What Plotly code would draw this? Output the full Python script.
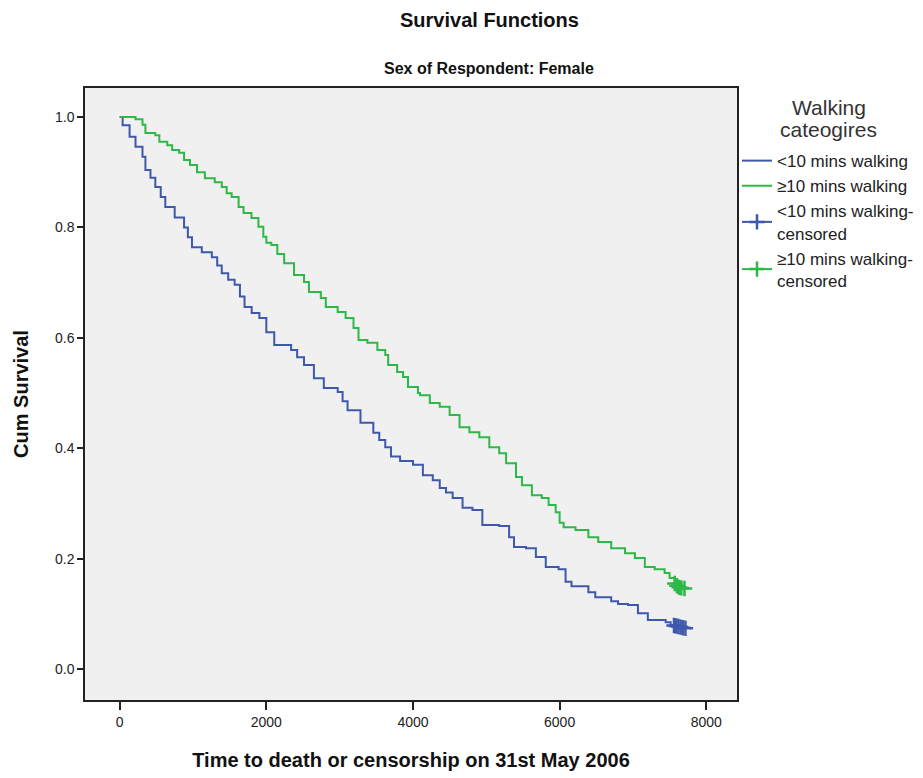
import plotly.graph_objects as go

# Kaplan-Meier step curves
t_lt10 = [0, 40, 135, 216, 311, 351, 420, 486, 560, 622, 750, 878, 930, 986, 1120, 1257,
          1330, 1392, 1480, 1568, 1640, 1703, 1800, 1905, 2000, 2108, 2338, 2420, 2514,
          2649, 2784, 2973, 3040, 3108, 3284, 3459, 3540, 3622, 3700, 3824, 4000, 4135,
          4270, 4365, 4450, 4541, 4676, 4811, 4946, 5176, 5311, 5378, 5541, 5676, 5811,
          5986, 6081, 6162, 6392, 6486, 6703, 6797, 6932, 7068, 7203, 7446, 7514, 7600, 7716]
s_lt10 = [1.0, 0.985, 0.964, 0.946, 0.928, 0.904, 0.890, 0.873, 0.855, 0.837, 0.818, 0.800,
          0.782, 0.764, 0.755, 0.746, 0.731, 0.717, 0.705, 0.696, 0.675, 0.656, 0.645, 0.636,
          0.610, 0.587, 0.578, 0.565, 0.551, 0.527, 0.509, 0.502, 0.485, 0.469, 0.446, 0.428,
          0.415, 0.402, 0.385, 0.377, 0.370, 0.351, 0.342, 0.328, 0.320, 0.310, 0.292, 0.288,
          0.261, 0.259, 0.239, 0.221, 0.219, 0.203, 0.185, 0.181, 0.158, 0.150, 0.139, 0.130,
          0.123, 0.118, 0.116, 0.101, 0.089, 0.085, 0.080, 0.077, 0.074]

t_ge10 = [0, 108, 216, 311, 351, 486, 541, 649, 716, 811, 878, 959, 1054, 1162, 1297, 1392,
          1459, 1527, 1622, 1689, 1797, 1892, 1959, 2000, 2068, 2150, 2243, 2378, 2514, 2581,
          2743, 2811, 2973, 3081, 3189, 3257, 3378, 3514, 3622, 3662, 3784, 3865, 3932, 4068,
          4095, 4230, 4365, 4500, 4635, 4770, 4905, 5041, 5176, 5270, 5405, 5486, 5622, 5757,
          5850, 5946, 6000, 6054, 6216, 6392, 6527, 6703, 6892, 7027, 7162, 7297, 7432, 7500,
          7568, 7640, 7703]
s_ge10 = [1.0, 1.0, 0.996, 0.986, 0.971, 0.967, 0.955, 0.949, 0.940, 0.935, 0.922, 0.913,
          0.900, 0.889, 0.882, 0.873, 0.862, 0.855, 0.837, 0.826, 0.817, 0.801, 0.783, 0.772,
          0.768, 0.752, 0.735, 0.714, 0.701, 0.683, 0.672, 0.656, 0.647, 0.636, 0.618, 0.596,
          0.591, 0.578, 0.569, 0.551, 0.538, 0.529, 0.511, 0.500, 0.496, 0.482, 0.475, 0.460,
          0.438, 0.429, 0.420, 0.402, 0.391, 0.373, 0.348, 0.333, 0.315, 0.310, 0.297, 0.284,
          0.265, 0.257, 0.252, 0.239, 0.230, 0.219, 0.210, 0.201, 0.185, 0.181, 0.174, 0.165,
          0.152, 0.148, 0.146]

# censored observations
tc_lt10 = [7560, 7590, 7620, 7650, 7680, 7716]
sc_lt10 = [0.079, 0.078, 0.077, 0.076, 0.075, 0.074]
tc_ge10 = [7570, 7600, 7630, 7660, 7703]
sc_ge10 = [0.155, 0.151, 0.148, 0.147, 0.146]

x_ticks = [0, 2000, 4000, 6000, 8000]
y_ticks = [0.0, 0.2, 0.4, 0.6, 0.8, 1.0]

BLUE = "#3E58AC"
GREEN = "#2EB848"
FONT = "Liberation Sans, Arial, sans-serif"

fig = go.Figure()
fig.add_trace(go.Scatter(x=t_lt10, y=s_lt10, mode="lines", line=dict(color=BLUE, width=2, shape="hv"),
                         name="<10 mins walking"))
fig.add_trace(go.Scatter(x=t_ge10, y=s_ge10, mode="lines", line=dict(color=GREEN, width=2, shape="hv"),
                         name="≥10 mins walking"))
fig.add_trace(go.Scatter(x=tc_lt10, y=sc_lt10, mode="lines+markers",
                         line=dict(color=BLUE, width=2, shape="hv"),
                         marker=dict(symbol="cross-thin", size=11, line=dict(color=BLUE, width=2.5)),
                         name="<10 mins walking-<br>censored"))
fig.add_trace(go.Scatter(x=tc_ge10, y=sc_ge10, mode="lines+markers",
                         line=dict(color=GREEN, width=2, shape="hv"),
                         marker=dict(symbol="cross-thin", size=11, line=dict(color=GREEN, width=2.5)),
                         name="≥10 mins walking-<br>censored"))

fig.update_layout(
    width=923, height=778,
    margin=dict(l=74, r=191, t=80, b=86),
    paper_bgcolor="white", plot_bgcolor="#F0F0F0",
    font=dict(family=FONT, color="#222222", size=13),
    showlegend=True,
    legend=dict(
        x=1.0, xanchor="left", y=0.91, yanchor="top",
        bgcolor="rgba(0,0,0,0)",
        font=dict(size=17, color="#222222"),
        itemwidth=30, tracegroupgap=0,
    ),
    annotations=[
        dict(text="<b>Survival Functions</b>", xref="paper", yref="paper", x=0.62, y=1.0,
             xanchor="center", yanchor="bottom", yshift=55, showarrow=False,
             font=dict(size=20, color="#111111")),
        dict(text="<b>Sex of Respondent: Female</b>", xref="paper", yref="paper", x=0.62, y=1.0,
             xanchor="center", yanchor="bottom", yshift=9, showarrow=False,
             font=dict(size=16, color="#111111")),
        dict(text="Walking", xref="paper", yref="paper", x=1.141, y=1.0,
             xanchor="center", yanchor="middle", yshift=-19, showarrow=False,
             font=dict(size=21, color="#333333")),
        dict(text="cateogires", xref="paper", yref="paper", x=1.141, y=1.0,
             xanchor="center", yanchor="middle", yshift=-41, showarrow=False,
             font=dict(size=21, color="#333333")),
    ],
)

fig.update_xaxes(
    range=[-473, 8419], tickvals=x_ticks, ticktext=[str(v) for v in x_ticks],
    showgrid=False, zeroline=False,
    showline=True, linecolor="#222222", linewidth=1.5, mirror=True,
    ticks="outside", ticklen=8, tickwidth=1.5, tickcolor="#222222",
    tickfont=dict(size=14, color="#222222"),
    title=dict(text="<b>Time to death or censorship on 31st May 2006</b>",
               font=dict(size=20, color="#111111"), standoff=24),
)
fig.update_yaxes(
    range=[-0.056, 1.0525], tickvals=y_ticks, ticktext=[f"{v:.1f}" for v in y_ticks],
    showgrid=False, zeroline=False,
    showline=True, linecolor="#222222", linewidth=1.5, mirror=True,
    ticks="outside", ticklen=6, tickwidth=1.5, tickcolor="#222222",
    tickfont=dict(size=14, color="#222222"),
    title=dict(text="<b>Cum Survival</b>", font=dict(size=20, color="#111111"), standoff=21),
)

fig.write_html("out.html")
